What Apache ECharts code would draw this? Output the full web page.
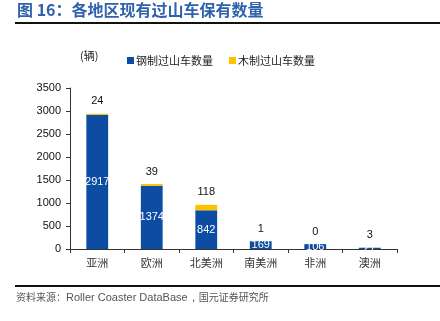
<!DOCTYPE html>
<html>
<head>
<meta charset="utf-8">
<script src="https://cdn.jsdelivr.net/npm/echarts@6/dist/echarts.min.js"></script>
<style>
html,body{margin:0;padding:0;background:#fff;}
#chart{width:440px;height:321px;}
</style>
</head>
<body>
<div id="chart"></div>
<script>
// Regions and roller coaster counts (steel / wooden)
const regions = ['亚洲', '欧洲', '北美洲', '南美洲', '非洲', '澳洲'];
const steelCounts = [2917, 1374, 842, 169, 106, 27];
const woodCounts = [24, 39, 118, 1, 0, 3];
const yTicks = [0, 500, 1000, 1500, 2000, 2500, 3000, 3500];

const cjk = '"Noto Sans CJK SC", sans-serif';
const latin = '"Liberation Sans", Arial, sans-serif';

const chart = echarts.init(document.getElementById('chart'));
chart.setOption({
  animation: false,
  backgroundColor: '#fff',
  graphic: [
    { type: 'text', left: 17, top: 2,
      style: { text: '图 16：各地区现有过山车保有数量', font: 'bold 16px ' + cjk, fill: '#2f62ab' } },
    { type: 'rect', shape: { x: 15, y: 22, width: 425, height: 2 }, style: { fill: '#111' } },
    { type: 'rect', shape: { x: 15, y: 285, width: 425, height: 2 }, style: { fill: '#111' } },
    { type: 'text', left: 16, top: 292,
      style: {
        text: '{c|资料来源：}{l|Roller Coaster DataBase，}{c|国元证券研究所}',
        rich: {
          c: { font: '10px ' + cjk, fill: '#555' },
          l: { font: '11px ' + latin, fill: '#555' }
        }
      } },
    { type: 'text', left: 80, top: 50,
      style: { text: '(辆)', font: '11px ' + cjk, fill: '#222' } }
  ],
  legend: {
    top: 50, left: 122,
    itemWidth: 7, itemHeight: 7, itemGap: 16,
    icon: 'rect',
    textStyle: { fontSize: 11, fontFamily: cjk, color: '#222', padding: [0, 0, 0, -3] },
    data: ['钢制过山车数量', '木制过山车数量']
  },
  grid: { left: 70, right: 43, top: 88, bottom: 72, containLabel: false },
  xAxis: {
    type: 'category',
    data: regions,
    axisLine: { lineStyle: { color: '#333' } },
    axisTick: { show: true, alignWithLabel: false, length: 4, lineStyle: { color: '#333' } },
    axisLabel: { fontSize: 11, fontFamily: cjk, color: '#333', margin: 8 }
  },
  yAxis: {
    type: 'value',
    min: 0, max: yTicks[yTicks.length - 1], interval: yTicks[1] - yTicks[0],
    splitLine: { show: false },
    axisLine: { show: true, lineStyle: { color: '#333' } },
    axisTick: { show: true, length: 4, lineStyle: { color: '#333' } },
    axisLabel: { fontSize: 11, fontFamily: latin, color: '#111', margin: 9,
      formatter: function (v) { return String(v); } }
  },
  series: [
    {
      name: '钢制过山车数量', type: 'bar', stack: 'total',
      data: steelCounts, barWidth: '40%',
      itemStyle: { color: '#0c4ca3' },
      label: { show: true, position: 'inside', color: '#fff', fontSize: 11, fontFamily: latin }
    },
    {
      name: '木制过山车数量', type: 'bar', stack: 'total',
      data: woodCounts, barWidth: '40%',
      itemStyle: { color: '#ffc000' },
      label: { show: true, position: 'top', distance: 7, color: '#111', fontSize: 11, fontFamily: latin }
    }
  ]
});
</script>
</body>
</html>
